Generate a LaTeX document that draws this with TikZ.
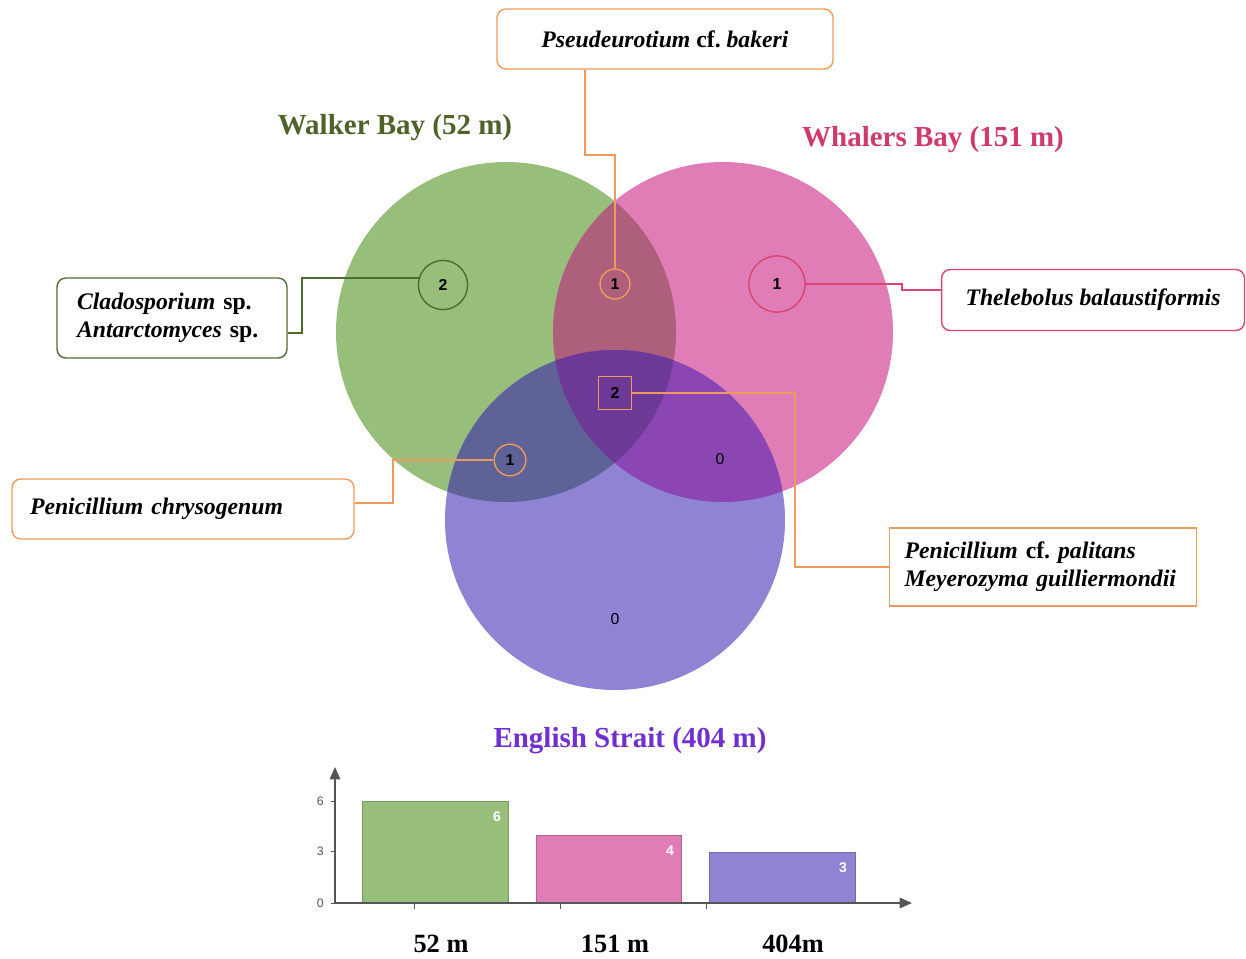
\documentclass[tikz,border=0pt]{standalone}
\usepackage{fontspec}
\setmainfont{Liberation Serif}
\newfontfamily\numfont{Liberation Sans}
\usepackage{tikz}
\usetikzlibrary{arrows.meta,positioning,calc}
\usepackage{xcolor}
\definecolor{wgreen}{HTML}{98BE7C}
\definecolor{wpink}{HTML}{E07DB6}
\definecolor{wblue}{HTML}{8F84D3}
\definecolor{gpink}{HTML}{AE5F7B}
\definecolor{gblue}{HTML}{5E6296}
\definecolor{pblue}{HTML}{8B46B4}
\definecolor{gpblue}{HTML}{6C3A96}
\definecolor{orng}{HTML}{EE9A5C}
\definecolor{dgreen}{HTML}{4E6B32}
\definecolor{crim}{HTML}{D8456E}
\definecolor{tgreen}{HTML}{4F6228}
\definecolor{tpink}{HTML}{D03A6A}
\definecolor{tpurp}{HTML}{7030D0}
\definecolor{axgray}{HTML}{555555}

\begin{document}
\begin{tikzpicture}[x=0.02cm,y=-0.02cm,
  sp/.style={font=\fontsize{13.5}{16}\selectfont\bfseries, inner sep=0pt},
  spbox/.style={sp, draw, thick, rounded corners=5pt, fill=white},
  cnt/.style={circle, thick, inner sep=0pt, font=\numfont\bfseries\fontsize{9}{10}\selectfont},
  site/.style={font=\fontsize{16.5}{19}\selectfont\bfseries},
  bar/.style={draw=#1!80!black, fill=#1},
  barval/.style={font=\numfont\bfseries\fontsize{8}{9}\selectfont, text=white},
  depth/.style={font=\fontsize{15}{17}\selectfont\bfseries}]
  \useasboundingbox (0,0) rectangle (1246,958);
  % Venn regions
  \fill[wgreen] (506,332) circle (170);
  \fill[wpink] (723,332) circle (170);
  \fill[wblue] (615,520) circle (170);
  \begin{scope}
    \clip (506,332) circle (170);
    \fill[gpink] (723,332) circle (170);
    \fill[gblue] (615,520) circle (170);
  \end{scope}
  \begin{scope}
    \clip (723,332) circle (170);
    \fill[pblue] (615,520) circle (170);
    \clip (506,332) circle (170);
    \fill[gpblue] (615,520) circle (170);
  \end{scope}
  % titles
  \node[site, text=tgreen] (walker) at (395,128) {Walker Bay (52 m)};
  \node[site, text=tpink] (whalers) at (933,140) {Whalers Bay (151 m)};
  \node[site, text=tpurp] (english) at (630,741) {English Strait (404 m)};
  % counts
  \node[cnt, draw=dgreen, minimum size=28pt] (n1) at (443,285) {2};
  \node[cnt, draw=crim, minimum size=32pt] (n2) at (777,284) {1};
  \node[cnt, draw=orng, minimum size=17pt] (n3) at (615,284) {1};
  \node[cnt, draw=orng, rectangle, minimum size=19pt] (n4) at (615,393) {2};
  \node[cnt, draw=orng, minimum size=18pt] (n5) at (510,460) {1};
  \node[cnt] (n6) at (720,459) {\mdseries 0};
  \node[cnt] (n7) at (615,619) {\mdseries 0};
  % species boxes
  \node[spbox, draw=orng, minimum width=6.72cm, minimum height=1.2cm] (pse) at (665,39)
    {\textit{Pseudeurotium} cf.\ \textit{bakeri}};
  \node[spbox, draw=dgreen, minimum width=4.6cm, minimum height=1.6cm, align=left,
    text width=3.8cm] (clad) at (172,318)
    {\textit{Cladosporium} sp.\\ \textit{Antarctomyces} sp.};
  \node[spbox, draw=crim, minimum width=6.06cm, minimum height=1.22cm] (theb) at (1093,300)
    {\textit{Thelebolus balaustiformis}};
  \node[spbox, draw=orng, minimum width=6.84cm, minimum height=1.2cm, align=left,
    text width=6.12cm] (chr) at (183,509) {\textit{Penicillium chrysogenum}};
  \node[sp, draw=orng, thick, fill=white, minimum width=6.14cm, minimum height=1.56cm,
    align=left, text width=5.54cm] (pal) at (1043,567)
    {\textit{Penicillium} cf.\ \textit{palitans}\\ \textit{Meyerozyma guilliermondii}};
  % connectors
  \coordinate (b1) at (585,155); \coordinate (b2) at (302,333);
  \coordinate (b3) at (902,290); \coordinate (b4) at (795,567);
  \coordinate (b5) at (393,503);
  \draw[orng, thick] (b1 |- pse.south) -- (b1) -| (n3.north);
  \draw[dgreen, thick] (b2 -| clad.east) -- (b2) |- (n1.164);
  \draw[crim, thick] (n2.east) -| (b3) -- (b3 -| theb.west);
  \draw[orng, thick] (n4.east) -| (b4) -- (pal.west);
  \draw[orng, thick] (n5.west) -| (b5) -- (b5 -| chr.east);
  % bar chart
  \coordinate (o) at (335,903);
  \draw[bar=wgreen] (362,903) rectangle (508,801);
  \draw[bar=wpink] (536,903) rectangle (681,835);
  \draw[bar=wblue] (709,903) rectangle (855,852);
  \node[barval] (v1) at (497,817) {6};
  \node[barval] (v2) at (670,851) {4};
  \node[barval] (v3) at (843,868) {3};
  \draw[axgray, thick, -{Triangle[length=7pt,width=6pt]}] (o) -- (335,767);
  \draw[axgray, thick, -{Triangle[length=7pt,width=6pt]}] (o) -- (912,903);
  \foreach \v/\y in {0/903,3/851,6/801}{
    \draw[axgray] (331,\y) -- (335,\y);
    \node[font=\numfont\fontsize{7}{8}\selectfont, text=axgray, anchor=east] at (330,\y) {\v};}
  \foreach \x in {414,560,706}{\draw[axgray] (\x,903) -- (\x,909);}
  \node[depth] (d1) at (441,944) {52 m};
  \node[depth] (d2) at (615,944) {151 m};
  \node[depth] (d3) at (793,944) {404m};
\end{tikzpicture}
\end{document}
